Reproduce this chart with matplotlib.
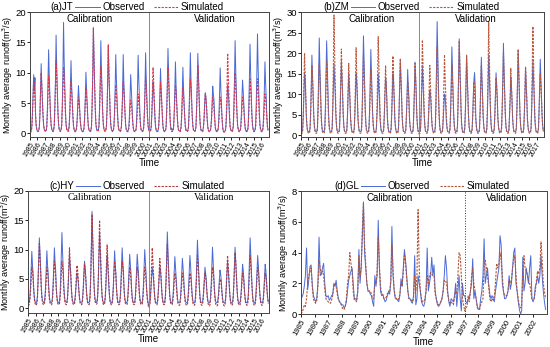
import numpy as np
import matplotlib.pyplot as plt

plt.rcParams['font.family'] = ['Liberation Sans', 'DejaVu Sans']

# ---- monthly runoff (m3/s), one row per year, Jan..Dec ----
jt_years = list(range(1985, 2017))
jt_obs = [
    [0.5,0.4,0.5,1.2,3.5,6.5,9.7,7.0,9.2,3.0,1.2,0.6],
    [0.4,0.4,0.5,1.0,3.0,7.0,11.5,8.0,5.5,2.8,1.3,0.6],
    [0.5,0.4,0.5,1.1,4.0,8.5,13.8,9.5,6.5,3.2,1.4,0.7],
    [0.5,0.4,0.6,1.3,4.5,9.0,16.2,11.0,7.5,3.5,1.5,0.7],
    [0.5,0.5,0.6,1.4,5.0,10.0,18.3,12.0,8.0,4.0,1.6,0.8],
    [0.6,0.5,0.6,1.2,3.5,7.5,12.0,8.0,5.5,2.8,1.3,0.6],
    [0.5,0.4,0.5,1.0,2.5,5.0,7.9,6.0,4.0,2.0,1.0,0.5],
    [0.4,0.4,0.5,1.0,3.0,6.0,10.1,7.5,5.0,2.5,1.1,0.5],
    [0.5,0.4,0.5,1.3,5.0,10.0,17.4,12.5,8.0,4.0,1.6,0.8],
    [0.6,0.5,0.6,1.3,4.5,9.0,15.3,10.5,7.0,3.5,1.5,0.7],
    [0.5,0.5,0.6,1.2,4.0,8.5,14.6,10.0,6.5,3.2,1.4,0.7],
    [0.5,0.4,0.5,1.1,3.5,7.5,13.0,9.0,6.0,3.0,1.3,0.6],
    [0.5,0.4,0.5,1.1,3.5,7.0,13.0,8.5,6.0,3.0,1.3,0.6],
    [0.5,0.4,0.5,1.0,3.0,6.0,9.7,7.5,5.0,2.5,1.1,0.5],
    [0.4,0.4,0.5,1.0,3.5,7.5,12.9,9.0,6.0,3.0,1.2,0.6],
    [0.5,0.4,0.5,1.1,3.5,7.5,13.3,9.0,6.0,3.0,1.3,0.6],
    [0.5,0.4,0.5,1.0,3.0,6.0,8.5,7.0,5.0,2.5,1.1,0.5],
    [0.4,0.4,0.5,1.0,3.0,6.5,10.7,7.5,5.0,2.5,1.1,0.5],
    [0.5,0.4,0.5,1.1,4.0,8.5,14.0,10.0,6.5,3.2,1.4,0.6],
    [0.8,0.6,0.5,1.0,3.5,7.0,11.8,8.0,5.5,2.8,1.2,0.6],
    [0.5,0.4,0.5,1.0,3.0,6.5,10.9,7.5,5.0,2.5,1.1,0.5],
    [0.5,0.4,0.5,1.1,4.0,8.0,13.3,9.0,6.0,3.0,1.3,0.6],
    [0.5,0.4,0.5,1.1,4.0,8.0,13.2,10.0,6.5,3.0,1.3,0.6],
    [0.5,0.4,0.5,1.0,2.5,5.0,6.7,6.0,4.5,2.5,1.1,0.5],
    [0.4,0.4,0.5,1.0,2.5,5.0,7.8,6.5,5.5,3.0,1.2,0.5],
    [0.5,0.4,0.5,1.0,3.0,6.5,10.8,7.5,5.0,2.5,1.0,0.4],
    [0.3,0.3,0.4,0.9,2.5,5.0,8.0,7.0,5.0,2.5,1.0,0.5],
    [0.5,0.4,0.5,1.2,4.5,9.0,15.3,10.5,7.0,3.5,1.4,0.7],
    [0.5,0.4,0.5,1.0,3.0,6.0,8.8,7.0,5.0,2.5,1.1,0.5],
    [0.5,0.4,0.5,1.2,4.5,9.0,14.7,10.0,6.5,3.2,1.4,0.7],
    [0.5,0.4,0.6,1.3,5.0,10.0,16.4,11.0,7.0,3.5,1.5,0.7],
    [0.5,0.4,0.5,1.1,3.5,7.0,11.8,8.5,6.0,3.0,1.2,0.6],
]
jt_sim = [
    [0.3,0.2,0.3,0.9,3.0,6.0,9.0,7.5,5.5,3.0,1.4,0.7],
    [0.4,0.3,0.4,1.0,3.2,6.5,10.0,8.0,5.5,3.0,1.4,0.7],
    [0.4,0.3,0.4,1.0,3.2,6.5,9.5,8.0,5.5,3.0,1.4,0.7],
    [0.4,0.3,0.4,1.2,3.8,7.5,12.0,9.5,6.5,3.5,1.5,0.7],
    [0.4,0.3,0.4,1.2,3.8,7.5,11.0,9.0,6.0,3.3,1.5,0.7],
    [0.4,0.3,0.4,1.0,3.0,5.5,8.5,7.0,5.0,2.8,1.3,0.6],
    [0.3,0.3,0.3,0.8,2.2,4.5,6.0,5.0,3.5,2.0,1.0,0.5],
    [0.3,0.3,0.3,0.8,2.5,5.0,7.5,6.0,4.5,2.5,1.1,0.5],
    [0.4,0.3,0.4,1.3,4.5,9.5,17.4,12.0,8.0,4.2,1.8,0.8],
    [0.4,0.3,0.4,1.2,3.8,7.0,11.0,9.0,6.0,3.3,1.5,0.7],
    [0.4,0.3,0.4,1.2,4.0,8.5,14.6,10.0,6.5,3.5,1.5,0.7],
    [0.4,0.3,0.4,1.0,2.8,5.5,8.0,6.5,4.8,2.7,1.2,0.6],
    [0.4,0.3,0.4,1.0,2.8,5.5,8.5,7.0,5.0,2.8,1.2,0.6],
    [0.3,0.3,0.3,0.8,2.0,4.0,5.5,5.0,3.8,2.2,1.0,0.5],
    [0.3,0.3,0.3,0.8,2.2,4.5,6.5,5.5,4.0,2.3,1.0,0.5],
    [0.3,0.3,0.4,1.0,3.0,6.0,9.5,7.5,5.0,2.8,1.3,0.6],
    [0.4,0.3,0.4,1.0,3.5,7.0,10.9,8.5,5.5,3.0,1.3,0.6],
    [0.3,0.3,0.4,1.0,3.0,5.5,8.5,7.0,5.0,2.7,1.2,0.5],
    [0.3,0.3,0.4,1.1,3.5,7.0,11.0,8.5,6.0,3.2,1.4,0.6],
    [0.3,0.3,0.4,1.0,2.8,5.5,8.0,6.8,4.8,2.7,1.2,0.5],
    [0.3,0.3,0.3,0.9,2.6,5.0,7.5,6.2,4.5,2.5,1.1,0.5],
    [0.3,0.3,0.4,1.0,3.0,6.0,9.0,7.5,5.0,2.8,1.2,0.5],
    [0.3,0.3,0.4,1.1,3.5,7.0,11.3,9.0,6.0,3.2,1.4,0.6],
    [0.3,0.3,0.3,0.9,2.2,4.5,6.5,6.0,4.5,2.5,1.1,0.5],
    [0.3,0.3,0.3,0.8,2.2,4.2,6.0,5.5,4.0,2.3,1.0,0.5],
    [0.3,0.3,0.3,0.8,2.2,4.2,6.0,5.5,4.0,2.3,1.0,0.4],
    [0.2,0.2,0.3,0.9,3.5,7.5,13.2,9.5,6.0,3.2,1.3,0.6],
    [0.3,0.3,0.4,1.0,3.2,6.5,10.0,8.0,5.5,3.0,1.3,0.6],
    [0.3,0.3,0.3,0.8,2.2,4.2,6.0,5.5,4.0,2.3,1.0,0.5],
    [0.3,0.3,0.4,1.0,3.0,6.0,9.0,7.5,5.0,2.8,1.2,0.6],
    [0.3,0.3,0.4,1.0,3.0,6.0,9.0,7.5,5.0,2.8,1.2,0.6],
    [0.3,0.3,0.3,0.9,2.3,4.5,6.5,6.0,4.5,2.5,1.1,0.5],
]

zm_years = list(range(1985, 2018))
zm_obs = [
    [0.8,0.7,0.8,1.6,5,10,15,14,9,4,2.2,1.1],
    [0.9,0.7,0.8,1.8,6,12,19.5,15,10,5,2.4,1.2],
    [0.9,0.8,0.9,2.0,7,15,23.7,17,12,6,2.6,1.2],
    [0.9,0.8,0.9,2.0,7,15,23,17,12,6,2.6,1.2],
    [0.9,0.8,0.9,1.8,6,12,17.5,14,10,5,2.3,1.1],
    [0.9,0.8,0.9,1.8,6,12,18,14,10,5,2.3,1.1],
    [0.8,0.7,0.8,1.6,5,10,15,12,8.5,4,2.1,1.0],
    [0.8,0.7,0.8,1.6,5,10,15,13,9,4,2.1,1.0],
    [0.9,0.8,0.9,2.0,7,15,24.2,18,12,6,2.6,1.2],
    [0.9,0.8,0.9,1.9,6.5,13,20.9,15,10,5,2.4,1.1],
    [0.8,0.7,0.8,1.6,5,8,15,12,9,4,2.1,1.0],
    [0.8,0.7,0.8,1.6,5,10,14,13,9,4,2.0,1.0],
    [0.8,0.7,0.8,1.6,5,10,15,13,9,4,2.1,1.0],
    [0.8,0.7,0.8,1.7,6,12,18,14,10,4.5,2.2,1.0],
    [0.8,0.7,0.8,1.6,5,10,16,12,9,4,2.1,1.0],
    [0.8,0.7,0.8,1.7,5.5,11,17.8,14,10,4.5,2.2,1.0],
    [0.8,0.7,0.8,1.7,5.5,11,17,13,9,4.5,2.2,1.0],
    [0.8,0.7,0.8,1.5,4,8,11,10,8,4,2.0,1.0],
    [0.9,0.8,0.9,2.1,8,17,27.7,20,13,6.5,2.7,1.2],
    [0.8,0.7,0.8,1.5,4,7,10,9.5,7,3.5,1.8,0.9],
    [0.8,0.7,0.8,1.8,6.5,13,21.5,16,11,5,2.4,1.1],
    [0.9,0.8,0.9,2.0,7,15,23.5,17,12,6,2.5,1.2],
    [0.8,0.7,0.8,1.8,6,12,19.3,15,10,5,2.3,1.1],
    [0.8,0.7,0.8,1.6,5,10,13.5,15.2,12,4.5,2.1,1.0],
    [0.8,0.7,0.8,1.7,6,12,19,14,10,4.5,2.2,1.0],
    [0.8,0.7,0.8,1.8,6,12,19.5,15,10,5,2.3,1.1],
    [0.8,0.7,0.8,1.6,5,10,15.2,12,9,4,2.1,1.0],
    [0.9,0.8,0.9,1.9,7,14,22.4,16,11,5.5,2.5,1.1],
    [0.8,0.7,0.8,1.6,5,9,14,12,8.5,4,2.0,1.0],
    [0.9,0.8,0.9,1.8,6.5,13,20.5,15,10,5,2.3,1.1],
    [0.8,0.7,0.8,1.6,5,10,16.5,13,9,4,2.1,1.0],
    [0.8,0.7,0.8,1.7,6,12,18,14,10,4.5,2.2,1.0],
    [0.8,0.7,0.8,1.7,6,12,18.5,14,10,4.5,2.2,1.0],
]
zm_sim = [
    [0.3,0.3,0.4,1.0,5,12,20,15,10,5,2.0,0.9],
    [0.5,0.4,0.5,1.2,5,11,17,14,9,4.5,2.0,0.9],
    [0.5,0.4,0.5,1.2,5,11,17.5,14,9,4.5,2.0,0.9],
    [0.5,0.4,0.5,1.2,5,11,18,14,9.5,4.5,2.0,0.9],
    [0.5,0.4,0.5,1.5,8,17,29.3,20,13,6,2.5,1.0],
    [0.5,0.4,0.5,1.3,6,13,21,15,10,5,2.2,1.0],
    [0.5,0.4,0.5,1.2,5,11,17.5,13,9,4.5,2.0,0.9],
    [0.5,0.4,0.5,1.3,6,13,21.3,15,10,5,2.2,1.0],
    [0.5,0.4,0.5,1.3,6,12,19.5,15,10,5,2.1,1.0],
    [0.5,0.4,0.5,1.2,5,10,16,13,9,4.5,2.0,0.9],
    [0.5,0.4,0.5,1.3,6.5,14,24,17,11,5.5,2.3,1.0],
    [0.5,0.4,0.5,1.2,5,11,17,13,9,4.5,2.0,0.9],
    [0.5,0.4,0.5,1.2,5.5,12,19.3,14,10,5,2.1,1.0],
    [0.5,0.4,0.5,1.2,5.5,12,18.7,14,10,5,2.1,1.0],
    [0.5,0.4,0.5,1.1,4.5,9,13,11,8,4,1.9,0.9],
    [0.5,0.4,0.5,1.2,5.5,11,17.5,14,9.5,4.5,2.0,0.9],
    [0.3,0.3,0.4,1.3,6.5,14,23.2,17,11,5.5,2.3,1.0],
    [0.5,0.4,0.5,1.2,5,11,17,13,9,4.5,2.0,0.9],
    [0.5,0.4,0.5,1.3,6,13,21.5,16,11,5,2.2,1.0],
    [0.5,0.4,0.5,1.2,5.5,12,19.6,14,10,5,2.1,1.0],
    [0.5,0.4,0.5,1.2,5,11,17,13,9,4.5,2.0,0.9],
    [0.5,0.4,0.5,1.3,6.5,14,23,17,11,5.5,2.3,1.0],
    [0.5,0.4,0.5,1.2,5.5,12,19.5,14,10,5,2.1,1.0],
    [0.5,0.4,0.5,1.1,4.5,9,13,11,6,3.5,1.8,0.8],
    [0.5,0.4,0.5,1.2,5,11,17,13,9,4.5,2.0,0.9],
    [0.5,0.4,0.5,1.4,7.5,16,27.7,19,12,6,2.4,1.0],
    [0.5,0.4,0.5,1.1,4.5,9,14,12,8,4,1.9,0.9],
    [0.5,0.4,0.5,1.3,6,12,20,15,10,5,2.1,1.0],
    [0.5,0.4,0.5,1.1,4.5,9,16.3,12,8,4,1.9,0.9],
    [0.5,0.4,0.5,1.3,6,13,21,15,10,5,2.2,1.0],
    [0.5,0.4,0.5,1.2,5,10,16.7,13,9,4.5,2.0,0.9],
    [0.5,0.4,0.5,1.4,7,16,26.5,18,11,5.5,2.3,1.0],
    [0.5,0.4,0.5,1.2,5,10,15,12,9,4.5,2.0,0.9],
]

hy_years = list(range(1985, 2017))
hy_obs = [
    [1.0,0.9,1.1,2.0,4.0,7.0,9.7,7.5,6.0,3.5,2.0,1.2],
    [1.0,0.9,1.1,2.2,5.0,8.5,12,9.5,7.0,4.0,2.2,1.3],
    [1.1,0.9,1.1,2.0,4.0,7.0,9.8,7.5,6.0,3.5,2.0,1.2],
    [1.0,0.9,1.1,2.0,4.2,7.5,10.3,8.0,6.5,3.5,2.0,1.2],
    [1.0,0.9,1.2,2.2,5.0,9.0,12.9,9.5,7.0,4.0,2.2,1.3],
    [1.1,1.0,1.1,2.0,4.0,6.5,9.0,7.5,6.0,3.5,2.0,1.2],
    [1.0,0.9,1.0,1.8,3.0,4.5,6.0,5.5,4.5,3.0,1.8,1.1],
    [1.0,0.9,1.0,1.8,3.5,6.0,8.0,7.0,5.5,3.2,1.9,1.1],
    [1.0,0.9,1.2,2.5,6.0,11,16.5,12,8.5,4.5,2.4,1.4],
    [1.2,1.0,1.2,2.3,5.0,9.0,13,10,7.5,4.0,2.2,1.3],
    [1.0,0.8,0.9,1.8,3.5,6.5,9.0,7.5,5.5,3.2,1.9,1.1],
    [1.0,0.9,1.1,2.0,4.0,7.0,9.8,7.5,6.0,3.5,2.0,1.2],
    [1.0,0.9,1.1,2.0,4.2,7.5,10.3,8.0,6.5,3.5,2.0,1.2],
    [1.0,0.9,1.1,2.0,4.0,6.5,9.2,7.5,6.0,3.5,2.0,1.2],
    [1.0,0.9,1.1,2.0,4.0,6.5,9.2,7.5,6.0,3.5,2.0,1.2],
    [1.0,0.9,1.1,2.0,4.2,7.0,10,8.0,6.0,3.5,2.0,1.2],
    [0.6,0.5,0.8,1.8,3.5,5.5,7.0,6.0,5.0,3.2,1.9,1.1],
    [1.0,0.9,1.0,1.8,3.5,5.5,7.0,6.5,5.0,3.2,1.9,1.1],
    [1.0,0.9,1.2,2.3,5.0,9.0,13,10,7.0,4.0,2.2,1.3],
    [1.0,0.9,1.1,2.0,3.8,6.5,8.8,7.0,5.5,3.2,1.9,1.1],
    [1.0,0.9,1.0,1.9,3.6,6.0,8.5,7.0,5.5,3.2,1.9,1.1],
    [1.0,0.9,1.1,2.0,3.8,6.5,9.0,7.5,5.5,3.3,1.9,1.1],
    [1.0,0.9,1.1,2.2,4.5,8.0,11.6,9.0,6.5,3.8,2.1,1.2],
    [1.0,0.9,1.0,1.8,3.2,5.0,7.0,6.0,5.0,3.0,1.8,1.1],
    [1.0,0.9,1.1,2.0,4.2,7.5,10.4,8.0,6.0,3.5,2.0,1.2],
    [1.0,0.9,1.0,1.8,3.0,5.0,6.5,5.8,4.8,3.0,1.8,1.1],
    [1.0,0.9,1.0,1.8,3.5,5.8,8.0,6.5,5.0,3.2,1.9,1.1],
    [1.0,0.9,1.1,2.0,4.2,7.5,10.4,8.0,6.0,3.5,2.0,1.2],
    [1.0,0.9,1.0,1.8,3.3,5.5,7.5,6.5,5.0,3.0,1.8,1.1],
    [1.0,0.9,1.2,2.2,5.0,8.5,12,9.0,6.5,3.8,2.1,1.2],
    [1.0,0.9,1.1,2.0,4.0,6.5,9.0,7.5,5.5,3.3,1.9,1.1],
    [1.0,0.9,1.0,1.8,3.3,5.5,7.5,6.5,5.0,3.0,1.8,1.1],
]
hy_sim = [
    [0.6,0.5,0.7,1.5,3.0,5.0,7.0,6.5,5.0,3.0,1.6,0.9],
    [0.6,0.5,0.8,1.8,4.5,8.0,11,9.0,6.5,3.5,1.8,1.0],
    [0.7,0.6,0.7,1.5,3.0,5.0,7.0,6.5,5.0,3.0,1.6,0.9],
    [0.7,0.6,0.7,1.6,3.5,6.0,8.0,7.0,5.5,3.2,1.7,0.9],
    [0.7,0.6,0.7,1.6,3.5,6.0,8.0,7.0,5.5,3.2,1.7,0.9],
    [0.7,0.6,0.8,1.8,4.0,7.0,10.3,8.0,6.0,3.5,1.8,1.0],
    [0.7,0.6,0.7,1.5,3.2,5.5,7.3,6.5,5.0,3.0,1.6,0.9],
    [0.7,0.6,0.7,1.5,3.2,5.5,7.5,6.5,5.0,3.0,1.6,0.9],
    [0.7,0.6,0.8,2.0,5.5,10,16,12,8.0,4.5,2.0,1.1],
    [0.8,0.7,0.8,2.0,5.0,9.5,15,11,8.0,4.2,2.0,1.1],
    [0.7,0.6,0.8,1.8,4.2,7.5,10.8,8.5,6.0,3.5,1.8,1.0],
    [0.7,0.6,0.7,1.6,3.5,6.0,8.0,7.0,5.5,3.2,1.7,0.9],
    [0.7,0.6,0.7,1.6,3.5,6.0,8.0,7.0,5.5,3.2,1.7,0.9],
    [0.7,0.6,0.7,1.5,3.2,5.2,7.0,6.5,5.0,3.0,1.6,0.9],
    [0.7,0.6,0.7,1.5,3.2,5.2,7.0,6.5,5.0,3.0,1.6,0.9],
    [0.7,0.6,0.7,1.5,3.2,5.2,7.0,6.5,5.0,3.0,1.6,0.9],
    [0.2,0.1,0.5,1.5,4.0,7.0,10.3,8.0,6.0,3.5,1.8,1.0],
    [0.7,0.6,0.7,1.6,3.5,6.0,8.5,7.0,5.5,3.2,1.7,0.9],
    [0.7,0.6,0.8,1.8,4.5,8.0,11,8.5,6.0,3.5,1.8,1.0],
    [0.7,0.6,0.7,1.4,2.8,4.5,6.0,5.5,4.5,2.8,1.5,0.8],
    [0.6,0.5,0.6,1.4,2.8,4.5,6.0,5.5,4.5,2.8,1.5,0.8],
    [0.6,0.5,0.6,1.4,2.8,4.5,6.0,5.5,4.5,2.8,1.5,0.8],
    [0.6,0.5,0.7,1.6,3.8,6.5,9.0,7.5,5.5,3.2,1.7,0.9],
    [0.6,0.5,0.6,1.4,2.8,4.5,6.0,5.5,4.5,2.8,1.5,0.8],
    [0.5,0.4,0.6,1.5,3.2,5.2,7.0,6.5,5.0,3.0,1.6,0.8],
    [0.5,0.4,0.5,1.3,2.5,4.0,5.0,4.8,4.0,2.6,1.4,0.7],
    [0.5,0.4,0.6,1.6,3.8,6.5,9.0,7.5,5.5,3.2,1.7,0.9],
    [0.6,0.5,0.7,1.7,4.0,7.0,9.5,8.0,5.8,3.4,1.7,0.9],
    [0.6,0.5,0.6,1.4,2.8,4.5,6.0,5.5,4.5,2.8,1.5,0.8],
    [0.6,0.5,0.7,1.6,3.8,6.5,9.0,7.5,5.5,3.2,1.7,0.9],
    [0.6,0.5,0.6,1.5,3.2,5.2,7.0,6.5,5.0,3.0,1.6,0.8],
    [0.6,0.5,0.6,1.4,2.8,4.5,6.0,5.5,4.5,2.8,1.5,0.8],
]

gl_years = list(range(1985, 2003))
gl_obs = [
    [1.0,1.1,1.3,1.8,2.5,4.3,1.6,2.2,3.1,3.2,2.0,1.2],
    [1.0,0.8,1.0,2.0,5.0,2.5,2.6,3.0,3.3,2.0,1.2,1.1],
    [1.2,0.9,1.0,1.2,1.3,2.0,1.8,2.2,1.5,1.0,0.8,0.7],
    [0.6,0.6,0.4,0.5,0.8,1.5,2.2,2.5,2.8,3.0,2.0,1.0],
    [1.0,0.9,1.5,4.2,2.0,3.0,5.0,7.3,4.0,3.0,2.0,1.5],
    [1.5,1.3,1.2,0.8,0.5,2.5,1.8,2.5,6.1,3.0,1.5,1.2],
    [1.3,1.0,0.8,0.9,1.2,1.4,1.3,2.0,5.7,2.5,1.5,1.0],
    [1.0,0.9,0.8,1.2,2.3,1.8,3.0,4.2,3.5,2.5,1.5,1.0],
    [1.0,0.8,0.7,1.2,3.8,0.6,1.0,2.5,2.0,1.5,0.8,0.6],
    [0.5,0.8,1.5,4.3,1.5,2.0,2.5,3.7,2.5,3.2,1.5,1.0],
    [0.6,0.5,0.6,0.8,1.0,1.5,2.5,3.8,3.0,1.5,0.8,0.5],
    [1.0,0.9,0.8,1.2,2.0,0.5,1.5,2.5,1.0,0.2,2.0,1.2],
    [1.2,0.8,0.7,1.0,1.0,1.5,2.0,3.6,1.0,1.5,1.0,0.5],
    [0.3,0.3,1.0,1.5,2.5,4.9,2.0,2.5,3.0,2.0,1.3,1.0],
    [1.2,1.0,0.8,1.5,2.0,2.5,3.0,5.1,4.5,2.0,1.5,1.0],
    [1.0,1.2,1.5,2.5,1.6,2.0,3.0,4.0,4.3,2.0,1.5,0.8],
    [0.3,0.0,0.2,3.7,1.5,2.0,3.0,2.5,2.0,3.0,3.8,1.0],
    [0.8,1.0,1.8,2.0,2.5,2.0,2.5,3.8,2.5,1.5,0.8,0.3],
]
gl_sim = [
    [0.0,0.1,0.3,0.6,0.5,1.0,2.0,2.5,2.8,3.0,1.8,1.0],
    [0.8,0.7,0.9,1.8,3.5,3.0,2.6,2.8,2.5,1.6,1.0,0.9],
    [0.8,0.7,0.7,0.9,1.2,1.8,2.0,1.8,1.3,0.9,0.8,0.7],
    [0.5,0.3,0.3,0.5,1.0,2.0,2.5,4.0,3.3,2.8,1.5,0.9],
    [0.9,0.8,1.5,3.8,2.5,3.0,5.5,7.2,4.5,3.2,2.0,1.5],
    [1.5,1.5,1.3,1.0,1.0,2.0,2.0,2.8,5.0,3.2,1.8,1.3],
    [1.2,1.0,1.0,1.1,1.3,1.5,1.4,2.2,4.5,2.8,1.6,1.1],
    [1.0,0.9,1.0,1.3,2.0,1.8,2.8,3.9,3.3,2.3,1.5,1.0],
    [1.0,0.9,0.8,1.0,2.5,1.5,2.5,6.8,3.0,1.5,1.0,0.8],
    [0.8,1.0,1.5,2.5,2.0,2.5,2.7,2.6,2.5,2.5,1.3,1.0],
    [0.7,0.6,0.7,0.8,1.0,1.5,2.2,2.2,2.0,1.3,0.9,0.7],
    [0.8,0.7,0.6,1.0,1.5,1.3,2.5,4.0,3.8,2.5,1.0,0.6],
    [0.2,0.4,0.5,1.2,0.8,1.5,2.5,3.0,2.0,1.5,1.0,0.4],
    [0.3,0.3,0.6,0.8,1.0,3.2,3.5,3.0,2.5,1.8,1.0,0.8],
    [1.0,0.9,1.2,2.0,3.3,3.0,3.2,4.0,3.5,2.5,1.5,1.2],
    [1.2,1.2,1.5,2.2,2.0,2.2,3.0,3.5,3.8,2.5,1.5,1.0],
    [0.5,0.4,0.6,2.5,3.8,3.0,2.8,2.6,2.2,2.0,1.5,1.0],
    [1.0,1.0,1.5,2.2,2.8,2.6,3.0,4.7,3.5,2.0,1.5,1.0],
]

OBS_COLOR = '#4a6ad6'

panels = [
    dict(name='(a)JT', years=jt_years, obs=jt_obs, sim=jt_sim, split=2001,
         ymax=20, ystep=5, ymin=-0.6, sim_color='#d8364a', split_style='-',
         pos=[0.0545, 0.605, 0.434, 0.360], leg_x=0.19,
         cal_x=0.25, val_x=0.775, serif=False, tick_fs=5.0),
    dict(name='(b)ZM', years=zm_years, obs=zm_obs, sim=zm_sim, split=2001,
         ymax=30, ystep=5, ymin=-0.5, sim_color='#b8553a', split_style='-',
         pos=[0.547, 0.605, 0.442, 0.360], leg_x=0.205,
         cal_x=0.29, val_x=0.72, serif=False, tick_fs=5.0),
    dict(name='(c)HY', years=hy_years, obs=hy_obs, sim=hy_sim, split=2001,
         ymax=20, ystep=5, ymin=-0.8, sim_color='#b03a3a', split_style='-',
         pos=[0.051, 0.098, 0.438, 0.352], leg_x=0.198,
         cal_x=0.256, val_x=0.773, serif=True, tick_fs=5.0),
    dict(name='(d)GL', years=gl_years, obs=gl_obs, sim=gl_sim, split=1997,
         ymax=8, ystep=2, ymin=0, sim_color='#b0553a', split_style=':',
         pos=[0.547, 0.095, 0.447, 0.354], leg_x=0.245,
         cal_x=0.363, val_x=0.836, serif=False, tick_fs=5.6),
]

fig = plt.figure(figsize=(5.5, 3.47), dpi=100)

for p in panels:
    ax = fig.add_axes(p['pos'])
    y0 = p['years'][0]
    n_years = len(p['years'])
    obs = np.array(p['obs']).ravel()
    sim = np.array(p['sim']).ravel()
    t = y0 + np.arange(obs.size) / 12.0

    ax.plot(t, obs, color=OBS_COLOR, lw=0.7, label='Observed')
    ax.plot(t, sim, color=p['sim_color'], lw=0.8, ls=(0, (2, 1.2)), label='Simulated')

    if p['split_style'] == ':':
        ax.axvline(p['split'], color='#333333', lw=0.7, ls=':')
    else:
        ax.axvline(p['split'], color='#888888', lw=0.7)

    ax.set_xlim(y0, y0 + n_years)
    ax.set_ylim(p['ymin'], p['ymax'])
    ax.set_yticks(np.arange(0, p['ymax'] + 0.1, p['ystep']))
    ax.set_xticks(p['years'])
    ax.set_xticklabels([str(y) for y in p['years']], rotation=60, ha='right',
                       rotation_mode='anchor', fontsize=p['tick_fs'])
    ax.tick_params(axis='y', labelsize=6.8, length=2, width=0.6, pad=1)
    ax.tick_params(axis='x', length=2, width=0.6, pad=1)
    for s in ax.spines.values():
        s.set_linewidth(0.7)
        s.set_color('#444444')

    ax.set_xlabel('Time', fontsize=7, labelpad=0)
    ax.set_ylabel('Monthly average runoff(m$^3$/s)', fontsize=6.5, labelpad=0)

    fam = ['Liberation Serif', 'DejaVu Serif'] if p['serif'] else ['Liberation Sans', 'DejaVu Sans']
    ax.text(p['cal_x'], 0.945, 'Calibration', transform=ax.transAxes,
            ha='center', va='center', fontsize=7, family=fam)
    ax.text(p['val_x'], 0.945, 'Validation', transform=ax.transAxes,
            ha='center', va='center', fontsize=7, family=fam)

    ax.text(p['leg_x'] - 0.008, 1.04, p['name'], transform=ax.transAxes,
            ha='right', va='center', fontsize=7)
    ax.legend(loc='center left', bbox_to_anchor=(p['leg_x'], 1.04), ncol=2,
              frameon=False, fontsize=7, handlelength=2.5, handletextpad=0.25,
              columnspacing=1.0, borderaxespad=0, borderpad=0)

fig.savefig('out.png', dpi=100)
